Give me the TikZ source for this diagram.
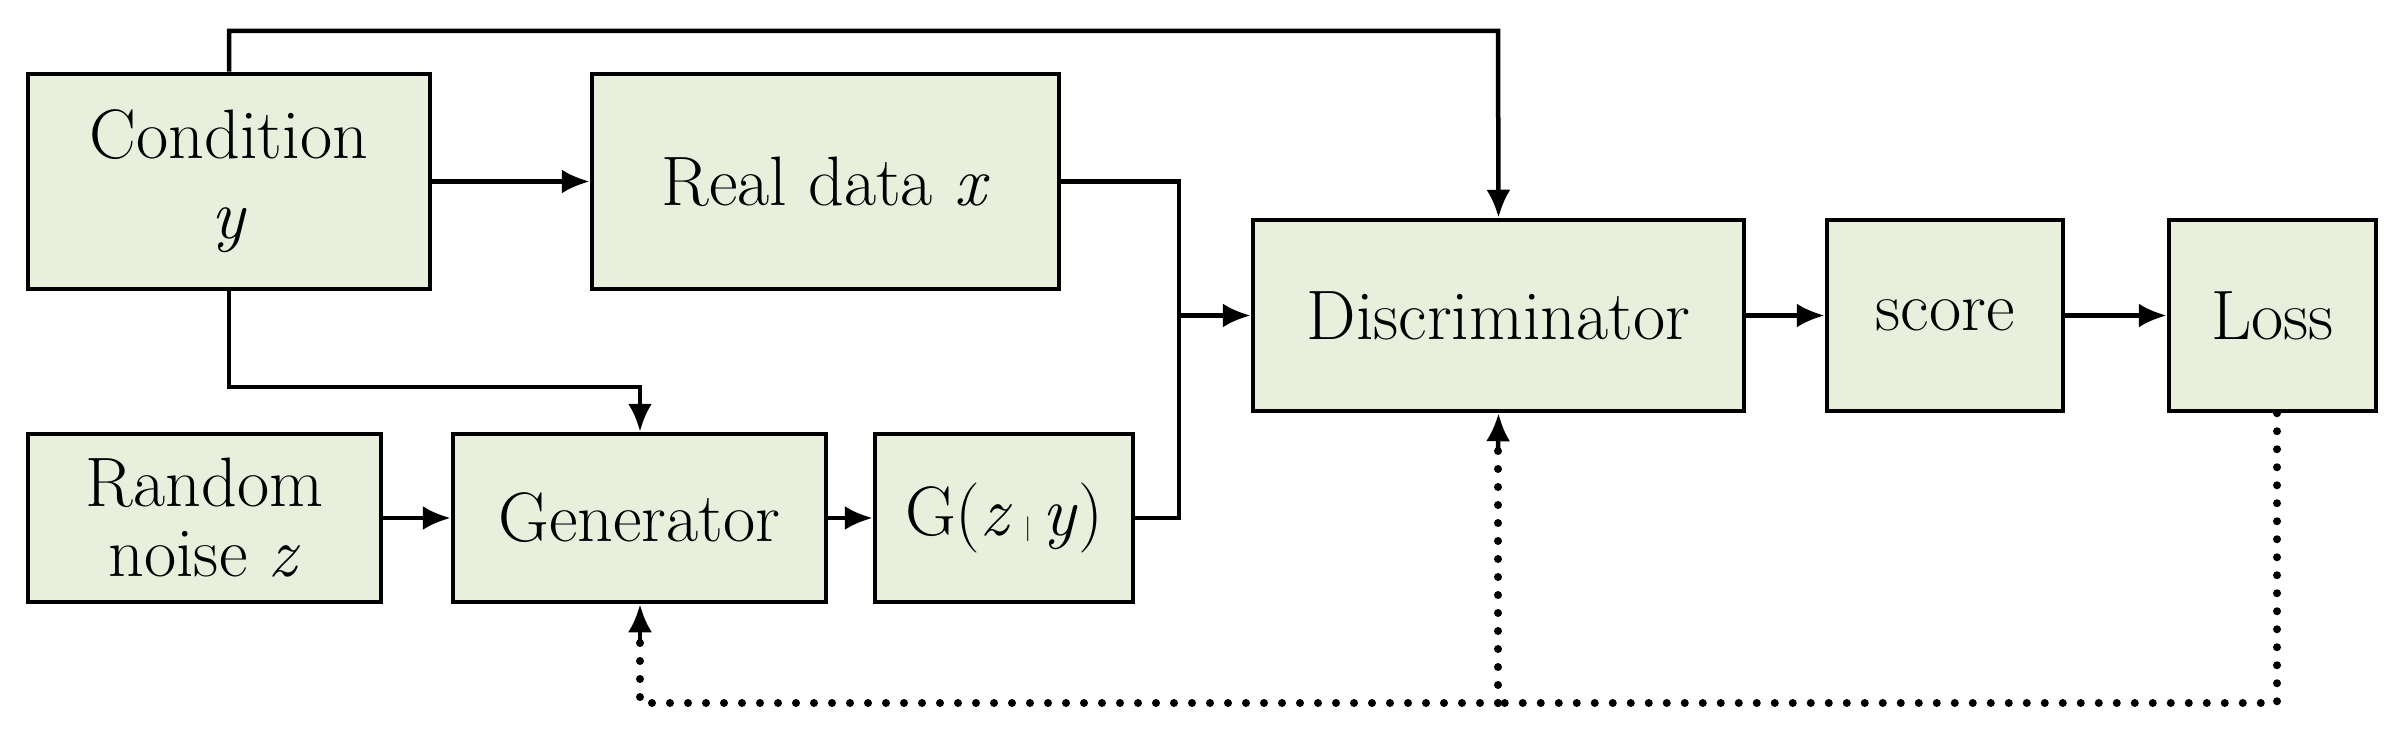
\documentclass[tikz,border=0pt]{standalone}
\usetikzlibrary{arrows.meta}
\definecolor{boxfill}{HTML}{E9EFDD}
\begin{document}
\begin{tikzpicture}[x=1pt,y=-1pt,
  box/.style={draw=black,line width=4.5pt,fill=boxfill,inner sep=0pt,align=center,
    font=\fontsize{70}{80}\selectfont},
  arr/.style={line width=4.5pt,-{Latex[length=28pt,width=24pt]}},
  dot/.style={line width=8pt,line cap=round,dash pattern=on 0pt off 18pt}]
\useasboundingbox (0,0) rectangle (2407,738);
\node[box,minimum width=402pt,minimum height=215pt] (cond) at (229,181.5) {Condition\\\textit{y}};
\node[box,minimum width=467pt,minimum height=215pt] (real) at (825.5,181.5) {Real data \textit{x}};
\node[box,minimum width=353pt,minimum height=168pt] (noise) at (204.5,518) {Random\\[-10pt]noise \textit{z}};
\node[box,minimum width=373pt,minimum height=168pt] (gen) at (639.5,518) {Generator};
\node[box,minimum width=258pt,minimum height=168pt] (gz) at (1004,518) {G(\textit{z}\,$|$\,\textit{y})};
\node[box,minimum width=491pt,minimum height=191pt] (disc) at (1498.5,315.5) {Discriminator};
\node[box,minimum width=236pt,minimum height=191pt] (score) at (1945,315.5) {score};
\node[box,minimum width=207pt,minimum height=191pt] (loss) at (2272.5,315.5) {Loss};
\coordinate (j) at (1179,315.5);
\coordinate (bot) at (1498,703);
\draw[arr] (cond.north) |- (1498,31) -- (disc.north);
\draw[arr] (cond.east) -- (real.west);
\draw[line width=4.5pt] (real.east) -| (j);
\draw[line width=4.5pt] (gz.east) -| (j);
\draw[arr] (j) -- (disc.west);
\draw[arr] (cond.south) |- (640,387) -- (gen.north -| 640,0);
\draw[arr] (noise.east) -- (gen.west);
\draw[arr] (gen.east) -- (gz.west);
\draw[arr] (disc.east) -- (score.west);
\draw[arr] (score.east) -- (loss.west);
\draw[dot] (loss.south -| 2277,0) |- (bot);
\draw[dot] (bot) -| (640,640);
\draw[dot] (bot) -- (1498,450);
\draw[arr] (640,640) -- (gen.south -| 640,0);
\draw[arr] (1498,450) -- (disc.south);
\end{tikzpicture}
\end{document}
